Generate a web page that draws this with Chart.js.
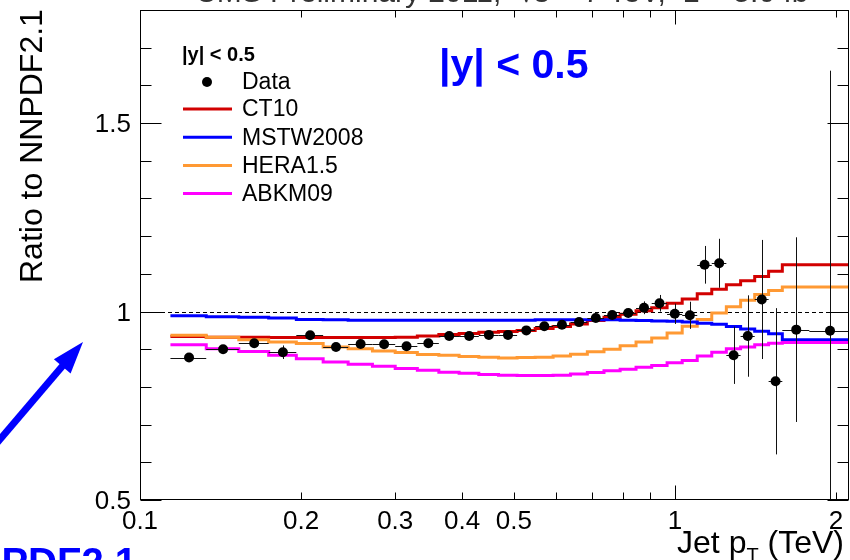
<!DOCTYPE html>
<html>
<head>
<meta charset="utf-8">
<title>Ratio to NNPDF2.1</title>
<script src="https://cdn.jsdelivr.net/npm/chart.js@4.4.1/dist/chart.umd.min.js"></script>
<style>
  html, body { margin: 0; padding: 0; background: #fff; }
  #wrap { width: 850px; height: 560px; }
</style>
</head>
<body>
<div id="wrap"><canvas id="ratio-chart" width="850" height="560"></canvas></div>
<script>
// Jet pT bin edges (TeV)
const binEdges = [0.114, 0.133, 0.153, 0.174, 0.196, 0.220, 0.245, 0.272, 0.300, 0.330,
  0.362, 0.395, 0.430, 0.468, 0.507, 0.548, 0.592, 0.638, 0.686, 0.737, 0.790, 0.846,
  0.905, 0.967, 1.032, 1.101, 1.172, 1.248, 1.327, 1.410, 1.497, 1.588, 1.784, 2.116];

// Data / NNPDF2.1 and its uncertainty, one value per bin
const dataRatio = [0.878, 0.900, 0.916, 0.892, 0.937, 0.906, 0.914, 0.913, 0.908, 0.916,
  0.935, 0.935, 0.938, 0.938, 0.950, 0.961, 0.965, 0.972, 0.983, 0.991,
  0.996, 1.010, 1.022, 0.994, 0.990, 1.124, 1.128, 0.884, 0.935, 1.032,
  0.815, 0.952, 0.949];
const dataErr = [0.006, 0.006, 0.006, 0.018, 0.006, 0.006, 0.006, 0.006, 0.006, 0.006,
  0.006, 0.006, 0.006, 0.006, 0.006, 0.006, 0.007, 0.007, 0.008, 0.009,
  0.012, 0.017, 0.022, 0.027, 0.036, 0.050, 0.065, 0.076, 0.108, 0.158,
  0.194, 0.245, 0.690];

// PDF set predictions / NNPDF2.1
const ct10 = [0.934, 0.932, 0.932, 0.931, 0.931, 0.931, 0.931, 0.931, 0.932, 0.935,
  0.939, 0.942, 0.945, 0.947, 0.950, 0.955, 0.960, 0.967, 0.976, 0.985,
  0.993, 1.002, 1.010, 1.022, 1.033, 1.047, 1.059, 1.071, 1.082, 1.093,
  1.107, 1.124, 1.124];
const mstw2008 = [0.989, 0.986, 0.985, 0.983, 0.979, 0.978, 0.977, 0.977, 0.977, 0.977,
  0.977, 0.977, 0.977, 0.977, 0.977, 0.978, 0.978, 0.978, 0.978, 0.978,
  0.977, 0.976, 0.975, 0.974, 0.972, 0.969, 0.966, 0.960, 0.954, 0.948,
  0.941, 0.925, 0.925];
const hera15 = [0.937, 0.932, 0.925, 0.919, 0.915, 0.906, 0.901, 0.895, 0.891, 0.886,
  0.884, 0.881, 0.879, 0.877, 0.878, 0.879, 0.882, 0.887, 0.893, 0.900,
  0.909, 0.919, 0.930, 0.943, 0.961, 0.979, 0.996, 1.013, 1.030, 1.045,
  1.056, 1.065, 1.065];
const abkm09 = [0.912, 0.901, 0.894, 0.884, 0.875, 0.866, 0.860, 0.855, 0.849, 0.844,
  0.839, 0.836, 0.833, 0.831, 0.830, 0.830, 0.831, 0.834, 0.838, 0.843,
  0.847, 0.852, 0.857, 0.864, 0.870, 0.882, 0.892, 0.901, 0.906, 0.912,
  0.916, 0.918, 0.918];

// Axis ticks
const xLabelTicks = [0.1, 0.2, 0.3, 0.4, 0.5, 1, 2];
const xMinorTicks = [0.2, 0.3, 0.4, 0.5, 0.6, 0.7, 0.8, 0.9, 2];
const xMajorTicks = [1];
const yLabelTicks = [0.5, 1, 1.5];
const yMinorTicks = [0.6, 0.7, 0.8, 0.9, 1.1, 1.2, 1.3, 1.4, 1.6, 1.7];

const FONT = '"Liberation Sans", Arial, Helvetica, sans-serif';
const BLUE = 'rgb(0, 0, 255)';

// step-histogram points from bin edges
function histPoints(values) {
  const pts = [];
  values.forEach((v, i) => {
    pts.push({ x: binEdges[i], y: v });
    pts.push({ x: binEdges[i + 1], y: v });
  });
  return pts;
}

const binCenters = dataRatio.map((v, i) => (binEdges[i] + binEdges[i + 1]) / 2);

const series = [
  { label: 'CT10', values: ct10, color: 'rgb(210, 0, 0)' },
  { label: 'MSTW2008', values: mstw2008, color: 'rgb(0, 0, 255)' },
  { label: 'HERA1.5', values: hera15, color: 'rgb(255, 153, 51)' },
  { label: 'ABKM09', values: abkm09, color: 'rgb(255, 0, 255)' }
];

// Dashed line at 1, frame, inward ROOT-style ticks and tick labels
const frameTicks = {
  id: 'frameTicks',
  beforeDatasetsDraw(chart) {
    const { ctx, chartArea: a, scales: { y } } = chart;
    const py = Math.round(y.getPixelForValue(1)) + 0.5;
    ctx.save();
    ctx.strokeStyle = '#000';
    ctx.lineWidth = 1;
    ctx.setLineDash([4, 3]);
    ctx.beginPath();
    ctx.moveTo(a.left, py);
    ctx.lineTo(a.right, py);
    ctx.stroke();
    ctx.restore();
  },
  afterDraw(chart) {
    const { ctx, chartArea: a, scales: { x, y } } = chart;
    const L = a.left + 0.5, R = a.right - 0.5, T = a.top + 0.5, B = a.bottom - 0.5;
    ctx.save();
    ctx.strokeStyle = '#000';
    ctx.lineWidth = 1;
    ctx.strokeRect(L, T, R - L, B - T);
    ctx.beginPath();
    const xTick = (v, len) => {
      const px = Math.round(x.getPixelForValue(v)) + 0.5;
      ctx.moveTo(px, B); ctx.lineTo(px, B - len);
      ctx.moveTo(px, T); ctx.lineTo(px, T + len);
    };
    const yTick = (v, len) => {
      const py = Math.round(y.getPixelForValue(v)) + 0.5;
      ctx.moveTo(L, py); ctx.lineTo(L + len, py);
      ctx.moveTo(R, py); ctx.lineTo(R - len, py);
    };
    xMinorTicks.forEach(v => xTick(v, 7));
    xMajorTicks.forEach(v => xTick(v, 14));
    yMinorTicks.forEach(v => yTick(v, 11));
    yLabelTicks.forEach(v => yTick(v, 21));
    ctx.stroke();

    // tick labels
    ctx.fillStyle = '#000';
    ctx.font = '26px ' + FONT;
    ctx.textBaseline = 'alphabetic';
    ctx.textAlign = 'center';
    xLabelTicks.forEach(v => {
      ctx.fillText(String(v), x.getPixelForValue(v), 529);
    });
    ctx.textAlign = 'right';
    yLabelTicks.forEach(v => {
      ctx.fillText(String(v), a.left - 9, y.getPixelForValue(v) + 9);
    });
    ctx.restore();
  }
};

// Error bars on the data points (drawn just before the markers)
const errorBars = {
  id: 'errorBars',
  beforeDatasetDraw(chart, args) {
    if (args.index !== 0) return;
    const { ctx, chartArea: a, scales: { x, y } } = chart;
    ctx.save();
    ctx.beginPath();
    ctx.rect(a.left, a.top, a.right - a.left, a.bottom - a.top);
    ctx.clip();
    ctx.strokeStyle = '#111';
    ctx.lineWidth = 1;
    ctx.beginPath();
    dataRatio.forEach((v, i) => {
      const py = Math.round(y.getPixelForValue(v)) + 0.5;
      const px = Math.round(x.getPixelForValue(binCenters[i])) + 0.5;
      ctx.moveTo(x.getPixelForValue(binEdges[i]), py);
      ctx.lineTo(x.getPixelForValue(binEdges[i + 1]), py);
      ctx.moveTo(px, y.getPixelForValue(v + dataErr[i]));
      ctx.lineTo(px, y.getPixelForValue(v - dataErr[i]));
    });
    ctx.stroke();
    ctx.restore();
  }
};

// Legend, titles and annotations
const annotations = {
  id: 'annotations',
  afterDraw(chart) {
    const { ctx } = chart;
    ctx.save();

    // cut-off plot title at the very top
    ctx.fillStyle = '#333';
    ctx.font = '30px ' + FONT;
    ctx.textBaseline = 'alphabetic';
    ctx.textAlign = 'left';
    ctx.fillText('CMS Preliminary 2011,  \u221As = 7 TeV,  L = 5.0 fb\u207B\u00B9', 195, 2, 640);

    // y-axis title, right-aligned to the top
    ctx.save();
    ctx.translate(42, 283);
    ctx.rotate(-Math.PI / 2);
    ctx.fillStyle = '#000';
    ctx.font = '32px ' + FONT;
    ctx.textAlign = 'left';
    ctx.fillText('Ratio to NNPDF2.1', 0, 0);
    ctx.restore();

    // x-axis title with subscript
    ctx.fillStyle = '#000';
    ctx.textAlign = 'left';
    const big = '32px ' + FONT, small = '20px ' + FONT;
    ctx.font = big;
    const w1 = ctx.measureText('Jet p').width;
    const w3 = ctx.measureText(' (TeV)').width;
    ctx.font = small;
    const w2 = ctx.measureText('T').width;
    const tx = 844 - (w1 + w2 + w3);
    ctx.font = big;
    ctx.fillText('Jet p', tx, 553);
    ctx.font = small;
    ctx.fillText('T', tx + w1, 562);
    ctx.font = big;
    ctx.fillText(' (TeV)', tx + w1 + w2, 553);

    // legend
    ctx.fillStyle = '#000';
    ctx.font = 'bold 20px ' + FONT;
    ctx.fillText('|y| < 0.5', 182, 61);
    ctx.font = '23px ' + FONT;
    ctx.textBaseline = 'middle';
    ctx.beginPath();
    ctx.arc(207, 82, 5, 0, Math.PI * 2);
    ctx.fill();
    ctx.fillText('Data', 242, 83);
    series.forEach((s, i) => {
      const ry = 109 + i * 28.2;
      ctx.strokeStyle = s.color;
      ctx.lineWidth = 3;
      ctx.beginPath();
      ctx.moveTo(183, ry);
      ctx.lineTo(232, ry);
      ctx.stroke();
      ctx.fillStyle = '#000';
      ctx.fillText(s.label, 242, ry + 1);
    });

    // big blue rapidity label
    ctx.textBaseline = 'alphabetic';
    ctx.fillStyle = BLUE;
    ctx.font = 'bold 41px ' + FONT;
    ctx.fillText('|y| < 0.5', 439, 78);

    // blue arrow pointing at the plot
    const tip = { x: 83, y: 342 };
    const tail = { x: -4, y: 444 };
    const dx = tip.x - tail.x, dy = tip.y - tail.y;
    const len = Math.hypot(dx, dy);
    const ux = dx / len, uy = dy / len;
    const headLen = 32, headHalf = 11;
    const bx = tip.x - ux * headLen, by = tip.y - uy * headLen;
    ctx.strokeStyle = BLUE;
    ctx.lineWidth = 7;
    ctx.beginPath();
    ctx.moveTo(tail.x, tail.y);
    ctx.lineTo(bx + ux * 4, by + uy * 4);
    ctx.stroke();
    ctx.beginPath();
    ctx.moveTo(tip.x, tip.y);
    ctx.lineTo(bx - uy * headHalf, by + ux * headHalf);
    ctx.lineTo(bx + uy * headHalf, by - ux * headHalf);
    ctx.closePath();
    ctx.fill();

    // cut-off blue caption at the bottom left
    ctx.font = 'bold 40px ' + FONT;
    ctx.textAlign = 'right';
    ctx.fillText('NNPDF2.1', 137, 576);

    ctx.restore();
  }
};

const datasets = [
  {
    label: 'Data',
    data: dataRatio.map((v, i) => ({ x: binCenters[i], y: v })),
    showLine: false,
    pointRadius: 5,
    pointStyle: 'circle',
    pointBackgroundColor: '#000',
    pointBorderWidth: 0,
    borderColor: '#000'
  }
];
// drawn in reverse order: CT10 lowest, ABKM09 just under the data
[series[3], series[1], series[2], series[0]].forEach(s => {
  datasets.push({
    label: s.label,
    data: histPoints(s.values),
    borderColor: s.color,
    borderWidth: 3,
    pointRadius: 0,
    tension: 0,
    fill: false
  });
});

new Chart(document.getElementById('ratio-chart'), {
  type: 'line',
  data: { datasets: datasets },
  options: {
    responsive: false,
    animation: false,
    devicePixelRatio: 1,
    layout: { autoPadding: false, padding: { top: 10, right: 1, left: 0, bottom: 0 } },
    plugins: {
      legend: { display: false },
      tooltip: { enabled: false }
    },
    scales: {
      x: {
        type: 'logarithmic',
        min: 0.1,
        max: 2.116,
        afterFit: scale => { scale.height = 60; },
        grid: { display: false, drawTicks: false },
        border: { display: false },
        ticks: { display: false }
      },
      y: {
        type: 'linear',
        min: 0.5,
        max: 1.8,
        afterFit: scale => { scale.width = 140; },
        grid: { display: false, drawTicks: false },
        border: { display: false },
        ticks: { display: false }
      }
    }
  },
  plugins: [frameTicks, errorBars, annotations]
});
</script>
</body>
</html>
